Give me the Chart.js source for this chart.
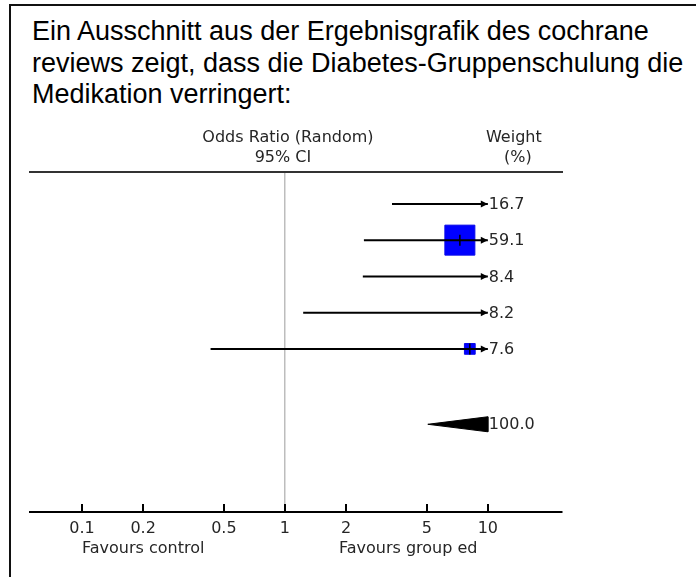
<!DOCTYPE html>
<html>
<head>
<meta charset="utf-8">
<script src="https://cdn.jsdelivr.net/npm/chart.js@4.4.1/dist/chart.umd.min.js"></script>
<style>
  html, body { margin: 0; padding: 0; background: #fff; }
  body { width: 696px; height: 577px; position: relative; overflow: hidden; }
  #frame { position: absolute; left: 9px; top: 4px; right: -10px; bottom: -10px;
    border-left: 2px solid #111; border-top: 2px solid #111; }
  #title { position: absolute; left: 32px; top: 16px; width: 664px;
    font: 27px "Liberation Sans", Arial, sans-serif; line-height: 31.5px; color: #000; }
  #c { position: absolute; left: 0; top: 0; }
</style>
</head>
<body>
<div id="frame"></div>
<div id="title">Ein Ausschnitt aus der Ergebnisgrafik des cochrane<br>reviews zeigt, dass die Diabetes-Gruppenschulung die<br>Medikation verringert:</div>
<canvas id="c" width="696" height="577"></canvas>
<script>
"use strict";

/* ---------- data (odds ratios) ---------- */
const rows      = [1, 2, 3, 4, 5];
const weights   = [16.7, 59.1, 8.4, 8.2, 7.6];        // %
const ciLower   = [3.37, 2.45, 2.42, 1.23, 0.43];
const ciUpper   = [35, 21.6, 45, 90, 154];             // off-scale, estimated
const pointEst  = [10.9, 7.28, 10.4, 10.5, 8.15];
const pooledRow = 7.08;
const pooled    = { lower: 5.06, est: 11, upper: 24, weight: 100.0 };
const tickValues = [0.1, 0.2, 0.5, 1, 2, 5, 10];
const tickLabels = ["0.1", "0.2", "0.5", "1", "2", "5", "10"];
const plotMax = 10;                 // CIs are cut here and get an arrow
const axisMin = 0.0554, axisMax = 23.2;

const TXT = "16px 'DejaVu Sans', sans-serif";
const INK = "#262626";

/* ---------- datasets ---------- */
const sets = [];

// point-estimate markers (on top)
const shown = rows.map((r, i) => i).filter(i => pointEst[i] <= plotMax);
sets.push({ data: shown.map(i => ({ x: pointEst[i], y: rows[i] })),
  pointStyle: "line", rotation: 90, radius: 5.5, borderColor: "#000", borderWidth: 1.5 });

// CI lines
rows.forEach((r, i) => sets.push({
  data: [{ x: ciLower[i], y: r }, { x: Math.min(ciUpper[i], plotMax), y: r }],
  showLine: true, borderColor: "#000", borderWidth: 2, pointRadius: 0 }));

// weighted squares (side ~ sqrt(weight))
sets.push({ data: shown.map(i => ({ x: pointEst[i], y: rows[i] })),
  pointStyle: "rect", backgroundColor: "#0000ff", borderColor: "#0a0ae8", borderWidth: 1,
  radius: shown.map(i => 2.76 * Math.sqrt(weights[i])) });

// pooled diamond, cut at plotMax
const halfH = 0.236;
const lg = Math.log10;
const hCut = halfH * (lg(plotMax) - lg(pooled.lower)) / (lg(pooled.est) - lg(pooled.lower));
sets.push({ data: [
    { x: pooled.lower, y: pooledRow },
    { x: plotMax, y: pooledRow - hCut },
    { x: plotMax, y: pooledRow + hCut },
    { x: pooled.lower, y: pooledRow } ],
  showLine: true, fill: "shape", backgroundColor: "#000", borderColor: "#000",
  borderWidth: 1, pointRadius: 0 });

/* ---------- arrows, ticks and texts drawn on the canvas ---------- */
const labels = {
  id: "labels",
  afterDraw(chart) {
    const { ctx, scales: { x, y } } = chart;
    const p1 = x.getPixelForValue(1), pMax = x.getPixelForValue(plotMax);
    const axisY = x.top;
    ctx.save();
    // upward tick marks
    ctx.strokeStyle = "#000"; ctx.lineWidth = 2;
    tickValues.forEach(v => {
      const px = Math.round(x.getPixelForValue(v));
      ctx.beginPath(); ctx.moveTo(px, axisY); ctx.lineTo(px, axisY - 8); ctx.stroke();
    });
    // arrowheads where the CI runs off the scale
    ctx.fillStyle = "#000";
    rows.forEach((r, i) => {
      if (ciUpper[i] <= plotMax) return;
      const py = y.getPixelForValue(r);
      ctx.beginPath(); ctx.moveTo(pMax, py); ctx.lineTo(pMax - 7, py - 3.5);
      ctx.lineTo(pMax - 7, py + 3.5); ctx.closePath(); ctx.fill();
    });
    ctx.font = TXT; ctx.fillStyle = INK; ctx.textBaseline = "middle";
    // header
    ctx.textAlign = "center";
    ctx.fillText("Odds Ratio (Random)", p1 + 3, 138);
    ctx.fillText("95% CI", p1 - 2, 158);
    ctx.fillText("Weight", pMax + 26, 138);
    ctx.fillText("(%)", pMax + 30, 158);
    // weights
    ctx.textAlign = "left";
    rows.forEach((r, i) => ctx.fillText(weights[i].toFixed(1), pMax + 1, y.getPixelForValue(r) + 1));
    ctx.fillText(pooled.weight.toFixed(1), pMax + 1, y.getPixelForValue(pooledRow) + 1);
    // favours
    ctx.fillText("Favours control", x.getPixelForValue(0.1), 549);
    ctx.fillText("Favours group ed", p1 + 54, 549);
    ctx.restore();
  }
};

new Chart(document.getElementById("c"), {
  type: "scatter",
  data: { datasets: sets },
  plugins: [labels],
  options: {
    responsive: false, animation: false, events: [],
    layout: { padding: { left: 30, right: 134, top: 172, bottom: 25 } },
    scales: {
      x: { type: "logarithmic", min: axisMin, max: axisMax, position: "bottom",
        afterBuildTicks: s => { s.ticks = tickValues.map(v => ({ value: v })); },
        afterFit: s => { s.height = 40; },
        ticks: { autoSkip: false, maxRotation: 0, padding: 7, color: INK,
          font: { family: "'DejaVu Sans', sans-serif", size: 16 },
          callback: v => tickLabels[tickValues.indexOf(v)] },
        grid: { drawTicks: false, lineWidth: 1.5,
          color: c => (c.tick && c.tick.value === 1) ? "#bdbdbd" : "rgba(0,0,0,0)" },
        border: { display: true, color: "#000", width: 2 } },
      xTop: { type: "linear", position: "top", min: 0, max: 1,
        ticks: { display: false }, grid: { display: false },
        afterFit: s => { s.height = 0; },
        border: { display: true, color: "#333", width: 2 } },
      y: { type: "linear", min: 0.12, max: 9.5, reverse: true, display: false }
    },
    plugins: { legend: { display: false }, tooltip: { enabled: false } }
  }
});
</script>
</body>
</html>
